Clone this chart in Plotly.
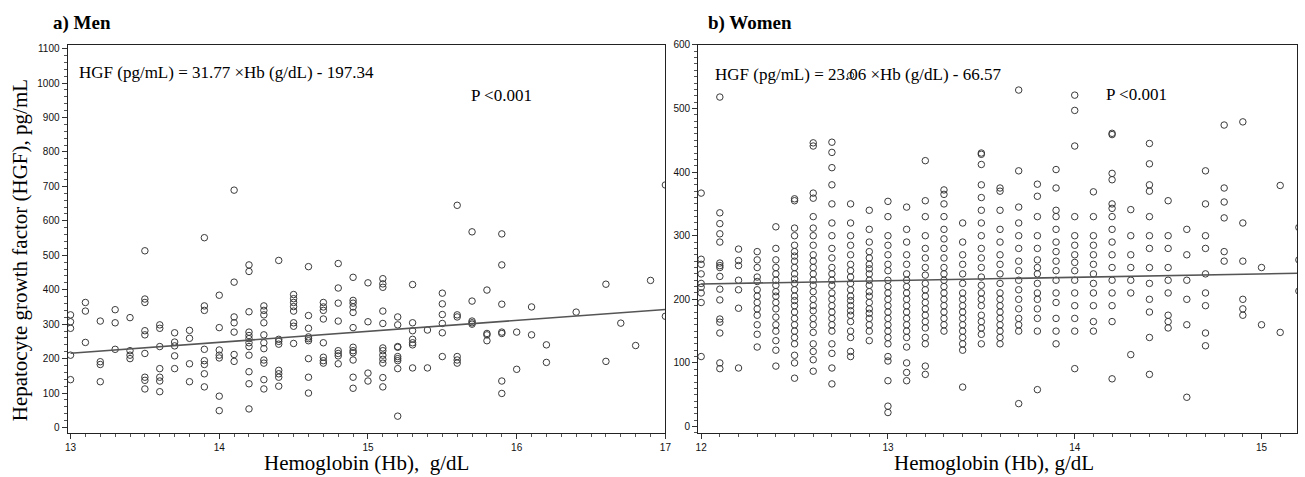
import numpy as np
import plotly.graph_objects as go

# ---------------- data ----------------
men_hb_cols = [13.0, 13.1, 13.2, 13.3, 13.4, 13.5, 13.6, 13.7, 13.8, 13.9,
               14.0, 14.1, 14.2, 14.3, 14.4, 14.5, 14.6, 14.7, 14.8, 14.9,
               15.0, 15.1, 15.2, 15.3, 15.4, 15.5, 15.6, 15.7, 15.8, 15.9,
               16.0, 16.1, 16.2, 16.4, 16.6, 16.7, 16.8, 16.9, 17.0]
men_hgf_cols = [
    [327, 307, 288, 210, 139],
    [363, 338, 247],
    [309, 191, 183, 133],
    [342, 304, 227],
    [319, 223, 210, 200],
    [513, 373, 363, 281, 269, 215, 146, 137, 112],
    [298, 288, 235, 171, 146, 135, 104],
    [275, 248, 237, 208, 171],
    [282, 259, 185, 133],
    [551, 353, 340, 227, 194, 183, 156, 118],
    [384, 290, 225, 210, 202, 91, 49],
    [689, 422, 321, 304, 277, 212, 192],
    [472, 453, 336, 277, 267, 258, 246, 235, 210, 162, 127, 54],
    [353, 340, 327, 304, 269, 246, 229, 196, 187, 139, 112],
    [485, 256, 250, 242, 166, 156, 146, 120],
    [386, 374, 363, 351, 338, 304, 294, 244],
    [467, 325, 288, 263, 258, 252, 200, 146, 100],
    [363, 350, 340, 315, 246, 204, 194, 187],
    [476, 405, 361, 309, 223, 215, 208, 185],
    [436, 369, 361, 350, 334, 290, 233, 223, 217, 196, 146, 114],
    [420, 307, 158, 135],
    [432, 417, 407, 338, 302, 231, 223, 210, 198, 187, 145, 118],
    [321, 298, 235, 233, 206, 200, 194, 171, 33],
    [415, 304, 281, 256, 246, 240, 173],
    [283, 173],
    [390, 359, 328, 302, 275, 206],
    [645, 327, 321, 206, 196, 187],
    [568, 367, 309, 304, 300],
    [399, 273, 269, 252],
    [562, 472, 358, 277, 273, 135, 99],
    [277, 169],
    [350, 269],
    [240, 189],
    [335],
    [416, 192],
    [303],
    [238],
    [427],
    [323, 704],
]

women_hb_cols = [12.0, 12.1, 12.2, 12.3, 12.4, 12.5, 12.6, 12.7, 12.8, 12.9,
                 13.0, 13.1, 13.2, 13.3, 13.4, 13.5, 13.6, 13.7, 13.8, 13.9,
                 14.0, 14.1, 14.2, 14.3, 14.4, 14.5, 14.6, 14.7, 14.8, 14.9,
                 15.0, 15.1, 15.2]
women_hgf_cols = [
    [367, 263, 255, 240, 225, 219, 210, 195, 110],
    [518, 336, 319, 303, 290, 257, 253, 250, 236, 216, 199, 169, 164, 147, 100, 91],
    [279, 261, 253, 230, 215, 186, 92],
    [275, 262, 250, 235, 228, 215, 205, 195, 185, 175, 160, 145, 125],
    [314, 280, 262, 250, 240, 230, 222, 212, 205, 195, 185, 172, 160, 150, 135, 120, 95],
    [358, 355, 312, 300, 285, 275, 268, 260, 250, 240, 232, 225, 215, 205, 198,
     190, 180, 170, 160, 150, 140, 130, 112, 100, 76],
    [446, 441, 367, 359, 330, 312, 300, 285, 270, 260, 250, 240, 230, 222, 212,
     200, 190, 182, 170, 160, 148, 130, 118, 105, 87],
    [447, 431, 407, 380, 350, 320, 300, 280, 265, 250, 240, 230, 222, 210, 200,
     190, 180, 170, 160, 150, 130, 115, 92, 67],
    [552, 350, 320, 300, 285, 270, 255, 245, 235, 225, 215, 205, 198, 190, 182,
     175, 165, 150, 140, 118, 110],
    [340, 310, 290, 275, 265, 255, 248, 240, 230, 222, 212, 205, 195, 185, 178,
     170, 160, 150, 135],
    [354, 330, 300, 285, 270, 255, 245, 230, 220, 210, 200, 190, 180, 170, 160,
     150, 140, 130, 110, 103, 72, 32, 22],
    [345, 310, 290, 270, 255, 240, 230, 220, 210, 200, 190, 180, 170, 160, 150,
     140, 125, 100, 85, 72],
    [418, 355, 330, 300, 280, 265, 250, 238, 225, 215, 205, 195, 185, 175, 165,
     155, 140, 130, 95, 82],
    [372, 365, 350, 330, 310, 295, 280, 265, 250, 240, 230, 220, 210, 200, 190,
     180, 170, 160, 150],
    [320, 290, 270, 255, 240, 225, 210, 200, 190, 180, 170, 160, 150, 140, 130, 120, 62],
    [430, 428, 412, 380, 360, 340, 320, 300, 280, 265, 250, 235, 222, 210, 200,
     190, 175, 165, 155, 145, 130],
    [375, 370, 340, 310, 290, 270, 255, 240, 225, 210, 200, 190, 180, 170, 160, 150, 140, 130],
    [529, 402, 345, 320, 300, 280, 260, 245, 230, 215, 200, 185, 170, 160, 150, 36],
    [381, 362, 330, 300, 280, 262, 250, 240, 225, 210, 200, 185, 170, 150, 58],
    [404, 375, 340, 330, 310, 290, 275, 260, 245, 230, 210, 195, 170, 150, 130],
    [521, 497, 441, 330, 300, 285, 270, 258, 245, 230, 210, 190, 170, 150, 91],
    [369, 330, 300, 285, 270, 255, 240, 225, 210, 190, 165, 150],
    [461, 459, 398, 388, 350, 343, 330, 310, 290, 270, 250, 230, 210, 190, 165, 75],
    [341, 300, 270, 250, 230, 210, 113],
    [445, 413, 380, 370, 330, 300, 280, 250, 225, 200, 180, 140, 82],
    [355, 300, 280, 250, 230, 210, 175, 165, 155],
    [310, 270, 230, 200, 160, 46],
    [402, 350, 300, 280, 240, 210, 190, 147, 127],
    [474, 375, 353, 328, 275, 260],
    [479, 320, 260, 200, 185, 175],
    [250, 160],
    [379, 148],
    [313, 262, 213],
]

# regression lines: men from the printed equation, women line as drawn in the picture
men_slope, men_intercept = 31.77, -197.34
men_line_hb = [13.0, 17.0]
women_line_hb = [12.0, 15.2]
women_line_hgf = [224, 241]

men_xticks = [13, 14, 15, 16, 17]
women_xticks = [12, 13, 14, 15]
men_yticks = list(range(0, 1101, 100))
women_yticks = list(range(0, 601, 100))


def flatten(cols, vals):
    xs, ys = [], []
    for c, v in zip(cols, vals):
        xs += [c] * len(v)
        ys += v
    return xs, ys


men_x, men_y = flatten(men_hb_cols, men_hgf_cols)
women_x, women_y = flatten(women_hb_cols, women_hgf_cols)

# ---------------- figure ----------------
W, H = 1305, 477
serif = "Liberation Serif, Times New Roman, serif"
sans = "Liberation Sans Narrow, Liberation Sans, Arial, sans-serif"

marker = dict(symbol="circle-open", size=6.5, color="#3a3a3a", line=dict(width=1, color="#3a3a3a"))
line_style = dict(color="#555555", width=1.6)

fig = go.Figure()
fig.add_trace(go.Scatter(x=men_x, y=men_y, mode="markers", marker=marker,
                         xaxis="x", yaxis="y", showlegend=False, cliponaxis=True))
mx = np.array(men_line_hb)
fig.add_trace(go.Scatter(x=mx, y=men_slope * mx + men_intercept, mode="lines",
                         line=line_style, xaxis="x", yaxis="y", showlegend=False))
fig.add_trace(go.Scatter(x=women_x, y=women_y, mode="markers", marker=marker,
                         xaxis="x2", yaxis="y2", showlegend=False, cliponaxis=True))
fig.add_trace(go.Scatter(x=women_line_hb, y=women_line_hgf, mode="lines",
                         line=line_style, xaxis="x2", yaxis="y2", showlegend=False))

yd = [(H - 433) / H, (H - 40) / H]
common_axis = dict(showline=True, linecolor="#222222", linewidth=1, mirror=True,
                   ticks="outside", ticklen=5, tickcolor="#333333", tickwidth=1,
                   showgrid=False, zeroline=False,
                   tickfont=dict(family=sans, size=10, color="#111111"))

fig.update_layout(
    width=W, height=H,
    margin=dict(l=0, r=0, t=0, b=0),
    paper_bgcolor="white", plot_bgcolor="white",
    xaxis=dict(domain=[65 / W, 667 / W], range=[12.98, 17.0], tickvals=men_xticks,
               minor=dict(ticks="outside", ticklen=3, dtick=0.1, tick0=13, tickcolor="#555555"),
               anchor="y", **common_axis),
    yaxis=dict(domain=yd, range=[-17.2, 1111.5], tickvals=men_yticks,
               minor=dict(ticks="outside", ticklen=3, dtick=20, tick0=0, tickcolor="#555555"),
               anchor="x", **common_axis),
    xaxis2=dict(domain=[700 / W, 1303 / W], range=[11.984, 15.19], tickvals=women_xticks,
                minor=dict(ticks="outside", ticklen=3, dtick=0.1, tick0=12, tickcolor="#555555"),
                anchor="y2", **common_axis),
    yaxis2=dict(domain=yd, range=[-10.9, 600.5], tickvals=women_yticks,
                minor=dict(ticks="outside", ticklen=3, dtick=10, tick0=0, tickcolor="#555555"),
                anchor="x2", **common_axis),
)


def px(x):
    return x / W


def py(y):
    return 1 - y / H


ann = [
    dict(text="<b>a) Men</b>", x=px(48), y=py(18), xanchor="left", yanchor="middle",
         font=dict(family=serif, size=19, color="black")),
    dict(text="<b>b) Women</b>", x=px(708), y=py(18), xanchor="left", yanchor="middle",
         font=dict(family=serif, size=19, color="black")),
    dict(text="HGF (pg/mL) = 31.77 ×Hb (g/dL) - 197.34", x=px(75), y=py(68),
         xanchor="left", yanchor="middle", font=dict(family=serif, size=17, color="black")),
    dict(text="P <0.001", x=px(469), y=py(91), xanchor="left", yanchor="middle",
         font=dict(family=serif, size=17, color="black")),
    dict(text="HGF (pg/mL) = 23.06 ×Hb (g/dL) - 66.57", x=px(715), y=py(70),
         xanchor="left", yanchor="middle", font=dict(family=serif, size=17, color="black")),
    dict(text="P <0.001", x=px(1109), y=py(90), xanchor="left", yanchor="middle",
         font=dict(family=serif, size=17, color="black")),
    dict(text="Hemoglobin (Hb),  g/dL", x=px(366), y=py(463), xanchor="center", yanchor="middle",
         font=dict(family=serif, size=21, color="black")),
    dict(text="Hemoglobin (Hb), g/dL", x=px(998), y=py(463), xanchor="center", yanchor="middle",
         font=dict(family=serif, size=21, color="black")),
    dict(text="Hepatocyte growth factor (HGF), pg/mL", x=px(18), y=py(248), textangle=-90,
         xanchor="center", yanchor="middle", font=dict(family=serif, size=21, color="black")),
]
for a in ann:
    a.update(xref="paper", yref="paper", showarrow=False)
fig.update_layout(annotations=ann)

fig.write_html("out.html", config={"displayModeBar": False},
               post_script="document.body.style.margin='0';document.body.style.overflow='hidden';")
